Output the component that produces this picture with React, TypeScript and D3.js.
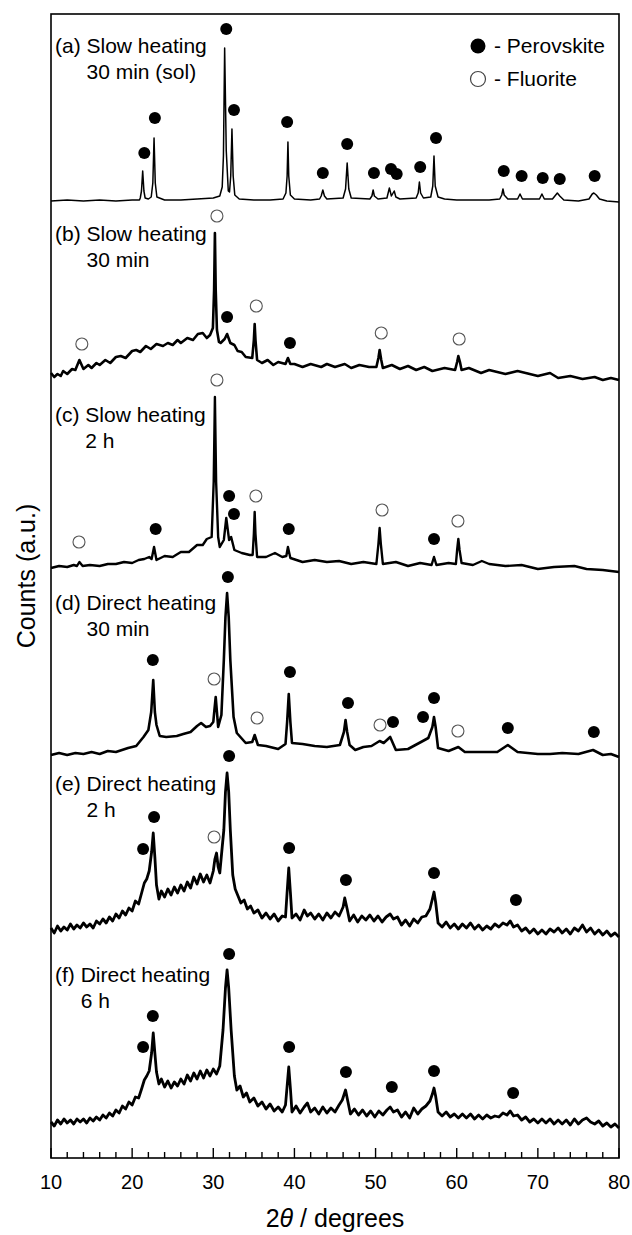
import React from "react";
import * as d3 from "d3";

// ---------- data (2θ in degrees, counts in a.u. above each pattern's own baseline) ----------
const xTickLabels = [10, 20, 30, 40, 50, 60, 70, 80];
const xMinorStep = 2;

const patternLabels = [
  ["(a)", "Slow heating", "30 min (sol)"],
  ["(b)", "Slow heating", "30 min"],
  ["(c)", "Slow heating", "2 h"],
  ["(d)", "Direct heating", "30 min"],
  ["(e)", "Direct heating", "2 h"],
  ["(f)", "Direct heating", "6 h"],
];

// vertical stacking offsets of the six patterns (a.u.)
const patternOffsets = [957, 778, 586, 401, 221, 30];

const patternA: [number, number][] = [
  [10, 0], [12, 1], [14, 0], [16, 1], [18, 0], [20, 1], [20.9, 1],
  [21.0, 3], [21.15, 10], [21.3, 30], [21.45, 10], [21.6, 3], [22.0, 2],
  [22.35, 4], [22.55, 18], [22.7, 63], [22.85, 18], [23.05, 4],
  [24, 1], [26, 1], [28, 2], [30, 3], [30.8, 5],
  [31.1, 14], [31.25, 45], [31.4, 153], [31.6, 50], [31.85, 10], [32.0, 9],
  [32.15, 25], [32.3, 72], [32.45, 25], [32.65, 6], [33.2, 2],
  [35, 1], [37, 1], [38.6, 2],
  [38.95, 8], [39.1, 25], [39.2, 59], [39.3, 25], [39.5, 6], [40, 2], [42, 1], [43.1, 2],
  [43.3, 5], [43.5, 11], [43.7, 5], [44, 2], [46.0, 3],
  [46.3, 12], [46.5, 38], [46.7, 12], [47, 3], [49.3, 2],
  [49.55, 5], [49.7, 11], [49.85, 5], [50.3, 2], [51.4, 3],
  [51.7, 13], [51.95, 5], [52.3, 10], [52.5, 4], [53, 2], [55.0, 3],
  [55.25, 8], [55.4, 19], [55.55, 8], [55.9, 3], [56.8, 4],
  [57.05, 15], [57.2, 45], [57.35, 15], [57.7, 4], [58.5, 2], [60, 1], [62, 1], [64, 1], [65.3, 2],
  [65.55, 6], [65.7, 12], [65.85, 6], [66.3, 2], [67.5, 2],
  [67.8, 7], [68.1, 2], [70.2, 2], [70.5, 7], [70.8, 2], [71.8, 2], [72.2, 6], [72.4, 8], [72.7, 5],
  [73.2, 1], [75, 0], [76.3, 2], [76.7, 7], [76.9, 8], [77.2, 6], [77.6, 2], [78.5, 0], [80, -1],
];

const patternB: [number, number][] = [
  [10, 7], [10.4, 3], [10.8, 6], [11.2, 4], [11.5, 9], [12, 6], [12.6, 11], [13.0, 10], [13.5, 20], [14.0, 11],
  [14.6, 15], [15, 12], [15.6, 17], [16, 15], [16.7, 20], [17.3, 17], [18, 23], [18.6, 24],
  [19.2, 22], [20, 29], [20.5, 30], [21, 28], [21.7, 34], [22.3, 31], [23, 36], [23.8, 34],
  [24.4, 37], [25, 35], [25.6, 40], [26, 37], [26.8, 42], [27.5, 40], [28.1, 46], [28.7, 47],
  [29.2, 42], [29.6, 45], [29.95, 52], [30.1, 90], [30.2, 147], [30.3, 90], [30.45, 50],
  [30.7, 38], [30.9, 37], [31.4, 41], [31.7, 46], [32.1, 37], [32.6, 35], [33, 29],
  [33.5, 28], [34, 23], [34.8, 22], [35.0, 40], [35.1, 56], [35.2, 40], [35.4, 20],
  [36, 17], [36.7, 20], [37.4, 15], [38, 18], [38.9, 16], [39.2, 22], [39.5, 16],
  [40, 16], [41, 13], [42, 16], [43.3, 13], [44, 16], [45, 13], [46.2, 16], [47, 12],
  [48, 15], [49.2, 13], [50.1, 13], [50.35, 22], [50.5, 30], [50.7, 20], [50.9, 12],
  [52, 15], [53, 11], [54, 14], [55, 10], [56, 13], [57, 9], [58.5, 12], [59.8, 10],
  [60.05, 18], [60.2, 24], [60.4, 18], [60.6, 10], [61.5, 12], [63, 7], [64, 10], [66, 6],
  [67.5, 9], [70, 4], [71.5, 7], [72.5, 2], [74, 4], [75.5, 1], [77, 3], [78, 0], [79, 2], [80, 0],
];

const patternC: [number, number][] = [
  [10, 4], [11, 6], [12, 5], [12.8, 7], [13.2, 6], [13.5, 10], [13.9, 6], [14.8, 7],
  [16, 6], [17, 8], [18, 8], [19, 10], [20, 9], [20.8, 12], [21.5, 13], [22.1, 15],
  [22.4, 13], [22.7, 25], [23.0, 12], [24, 16], [25, 15], [26, 20], [27, 20], [28, 27],
  [28.7, 27], [29.2, 33], [29.8, 35], [30.05, 90], [30.2, 175], [30.35, 90], [30.6, 35],
  [30.8, 25], [31.3, 32], [31.6, 54], [31.95, 32], [32.2, 35], [32.6, 22], [33.5, 19],
  [34.5, 17], [34.85, 17], [35.0, 38], [35.1, 60], [35.2, 38], [35.4, 15], [36.5, 15],
  [37.6, 19], [38.5, 15], [39.0, 16], [39.2, 25], [39.5, 14], [41, 10], [42.5, 12],
  [44, 10], [45.5, 11], [47, 8], [48.5, 10], [50.1, 8], [50.35, 28], [50.5, 44],
  [50.65, 28], [50.9, 8], [52.5, 10], [54, 6], [55.5, 9], [56.9, 7], [57.2, 15], [57.5, 7],
  [59.0, 9], [59.9, 8], [60.05, 22], [60.2, 33], [60.35, 22], [60.6, 9], [62, 7],
  [63.1, 11], [64, 8], [66, 6], [68, 7], [70, 3], [72, 5], [74.5, 6], [76, 3], [78, 2], [80, 0],
];

const patternD: [number, number][] = [
  [10, 2], [11, 4], [12, 2], [13, 4], [14, 3], [15, 5], [16, 3], [17, 6], [18, 5],
  [19.5, 9], [20.5, 11], [21.4, 20], [22.0, 27], [22.35, 45], [22.6, 77], [22.8, 45],
  [23.0, 32], [23.4, 21], [24.2, 20], [25.5, 21], [26.3, 23], [27.2, 25], [28, 31],
  [28.5, 34], [29.1, 30], [29.6, 31], [30.0, 35], [30.15, 48], [30.3, 60], [30.45, 45],
  [30.6, 30], [31.0, 42], [31.3, 97], [31.5, 140], [31.7, 164], [31.9, 140], [32.1, 97],
  [32.5, 40], [32.9, 24], [34.0, 14], [34.8, 15], [35.1, 22], [35.5, 12], [36.5, 11],
  [38.0, 8], [38.9, 13], [39.1, 35], [39.3, 63], [39.5, 35], [39.7, 14], [41.0, 13],
  [42.5, 11], [44, 10], [45.6, 12], [46.1, 25], [46.3, 37], [46.5, 25], [46.8, 12],
  [47.5, 7], [48.5, 10], [49.5, 11], [50.5, 16], [51.0, 14], [51.8, 20], [52.5, 7],
  [54, 8], [55.6, 15], [56.5, 19], [57.0, 30], [57.2, 40], [57.4, 30], [57.7, 9],
  [59, 6], [60.2, 10], [61, 5], [63, 5], [65, 5], [66.3, 12], [67.5, 5], [70, 3],
  [71.5, 3], [73, 4], [75, 3], [76.8, 7], [78, 2], [79, 3], [80, 0],
];

const patternE: [number, number][] = [
  [10, 9], [10.4, 4], [10.8, 11], [11.2, 6], [11.6, 10], [12, 7], [12.4, 13], [12.8, 8],
  [13.2, 12], [13.6, 9], [14, 14], [14.4, 10], [14.8, 13], [15.2, 9], [15.6, 16], [16, 13],
  [16.4, 18], [16.8, 14], [17.2, 20], [17.6, 16], [18, 23], [18.4, 19], [18.8, 26], [19.2, 22],
  [19.6, 29], [20, 26], [20.4, 36], [20.8, 33], [21.2, 45], [21.5, 54], [21.8, 58], [22.1, 66],
  [22.4, 85], [22.6, 104], [22.8, 80], [23.0, 52], [23.3, 38], [23.6, 46], [24, 40], [24.4, 48],
  [24.8, 42], [25.2, 50], [25.6, 44], [26, 52], [26.4, 46], [26.8, 55], [27.2, 49], [27.6, 60],
  [28, 53], [28.4, 63], [28.8, 55], [29.2, 62], [29.6, 54], [30.0, 66], [30.2, 78], [30.4, 84],
  [30.6, 70], [30.8, 64], [31.1, 90], [31.3, 107], [31.5, 145], [31.7, 164], [31.9, 145],
  [32.1, 107], [32.4, 62], [32.7, 48], [33, 42], [33.4, 34], [33.8, 37], [34.2, 28], [34.6, 31],
  [35, 24], [35.5, 27], [36, 19], [36.5, 24], [37, 18], [37.5, 23], [38, 16], [38.5, 21],
  [38.9, 20], [39.1, 45], [39.3, 69], [39.5, 45], [39.7, 19], [40.2, 23], [40.7, 17], [41.2, 27],
  [41.6, 21], [42, 24], [42.5, 18], [43, 23], [43.5, 17], [44, 24], [44.5, 19], [45, 25],
  [45.5, 21], [46, 30], [46.2, 39], [46.5, 28], [46.8, 16], [47.3, 22], [47.8, 15], [48.3, 21],
  [48.8, 17], [49.3, 22], [49.8, 16], [50.3, 21], [50.8, 15], [51.3, 20], [51.8, 23], [52.2, 18],
  [52.7, 20], [53.2, 12], [53.7, 17], [54.2, 11], [54.7, 18], [55.2, 14], [55.7, 20], [56.2, 21],
  [56.7, 28], [57.0, 38], [57.2, 45], [57.4, 35], [57.7, 14], [58.2, 10], [58.7, 15], [59.2, 9],
  [59.7, 13], [60.2, 8], [60.7, 13], [61.2, 9], [61.7, 14], [62.2, 8], [62.7, 12], [63.2, 7],
  [63.7, 11], [64.2, 8], [64.7, 13], [65.2, 10], [65.7, 14], [66.2, 12], [66.6, 16], [67, 10],
  [67.5, 12], [68, 6], [68.5, 9], [69, 4], [69.5, 8], [70, 3], [70.5, 7], [71, 3], [71.5, 8],
  [72, 5], [72.5, 9], [73, 4], [73.5, 8], [74, 3], [74.5, 9], [75, 6], [75.5, 12], [76, 5],
  [76.5, 9], [77, 3], [77.5, 7], [78, 2], [78.5, 6], [79, 1], [79.5, 4], [80, 0],
];

const patternF: [number, number][] = [
  [10, 6], [10.4, 2], [10.8, 8], [11.2, 4], [11.6, 9], [12, 5], [12.4, 8], [12.8, 4], [13.2, 9],
  [13.6, 6], [14, 9], [14.4, 5], [14.8, 10], [15.2, 7], [15.6, 11], [16, 8], [16.4, 13], [16.8, 10],
  [17.2, 15], [17.6, 12], [18, 18], [18.4, 15], [18.8, 22], [19.2, 19], [19.6, 26], [20, 23],
  [20.4, 31], [20.8, 30], [21.2, 40], [21.5, 48], [21.8, 52], [22.1, 57], [22.4, 75], [22.6, 95],
  [22.8, 75], [23.0, 56], [23.3, 44], [23.6, 49], [24, 41], [24.4, 47], [24.8, 40], [25.2, 46],
  [25.6, 42], [26, 49], [26.4, 44], [26.8, 53], [27.2, 47], [27.6, 55], [28, 49], [28.4, 57],
  [28.8, 50], [29.2, 58], [29.6, 52], [30, 59], [30.4, 54], [30.8, 62], [31.2, 98], [31.5, 140],
  [31.7, 158], [31.9, 140], [32.2, 98], [32.6, 52], [32.9, 38], [33.3, 42], [33.7, 31], [34.1, 35],
  [34.5, 26], [35, 30], [35.5, 22], [36, 26], [36.5, 19], [37, 24], [37.5, 17], [38, 21],
  [38.5, 16], [38.9, 23], [39.1, 42], [39.3, 61], [39.5, 40], [39.7, 16], [40.2, 22], [40.7, 15],
  [41.2, 21], [41.6, 25], [42, 16], [42.5, 20], [43, 14], [43.5, 21], [44, 15], [44.5, 20],
  [45, 16], [45.5, 23], [45.9, 28], [46.3, 38], [46.6, 26], [46.9, 14], [47.4, 19], [47.9, 13],
  [48.4, 18], [48.9, 12], [49.4, 17], [49.9, 11], [50.4, 17], [50.9, 13], [51.4, 18], [51.8, 21],
  [52.2, 16], [52.7, 18], [53.2, 11], [53.7, 16], [54.2, 10], [54.7, 20], [55.2, 14], [55.7, 19],
  [56.2, 22], [56.7, 27], [57.0, 34], [57.2, 40], [57.4, 32], [57.7, 16], [58.2, 12], [58.7, 16],
  [59.2, 11], [59.7, 14], [60.2, 10], [60.7, 14], [61.2, 10], [61.7, 14], [62.2, 9], [62.7, 13],
  [63.2, 9], [63.7, 13], [64.2, 10], [64.7, 12], [65.2, 11], [65.7, 15], [66.2, 13], [66.6, 17],
  [67, 12], [67.5, 13], [68, 8], [68.5, 11], [69, 6], [69.5, 9], [70, 5], [70.5, 9], [71, 5],
  [71.5, 9], [72, 4], [72.5, 8], [73, 4], [73.5, 8], [74, 3], [74.5, 9], [75, 4], [75.5, 8],
  [76, 10], [76.5, 6], [77, 4], [77.5, 7], [78, 2], [78.5, 5], [79, 1], [79.5, 4], [80, 0],
];

const patterns = [patternA, patternB, patternC, patternD, patternE, patternF];

// phase markers [2θ, counts above the pattern baseline]
const perovskiteMarks: [number, number][][] = [
  [[21.5, 48], [22.8, 83], [31.6, 172], [32.55, 91], [39.1, 79], [43.5, 28], [46.5, 57],
   [49.8, 28], [51.9, 32], [52.6, 27], [55.5, 34], [57.45, 63], [65.8, 30], [68.0, 25],
   [70.6, 23], [72.7, 22], [77.0, 25]],
  [[31.7, 63], [39.45, 37]],
  [[22.9, 43], [31.95, 76], [32.55, 58], [39.3, 43], [57.2, 33]],
  [[22.55, 97], [31.8, 180], [39.45, 85], [46.6, 54], [52.15, 35], [55.85, 40], [57.2, 59],
   [66.3, 29], [76.9, 25]],
  [[21.35, 88], [22.7, 120], [31.95, 181], [39.35, 89], [46.35, 57], [57.2, 64], [67.3, 37]],
  [[21.35, 81], [22.55, 112], [31.95, 174], [39.35, 81], [46.35, 56], [52.0, 41], [57.2, 57],
   [66.95, 35]],
];

const fluoriteMarks: [number, number][][] = [
  [],
  [[13.8, 36], [30.45, 164], [35.3, 74], [50.7, 47], [60.3, 41]],
  [[13.45, 30], [30.45, 192], [35.25, 76], [50.8, 62], [60.15, 51]],
  [[30.1, 78], [35.4, 39], [50.55, 32], [60.15, 26]],
  [[30.1, 100]],
  [],
];

const legendItems = ["- Perovskite", "- Fluorite"];

// ---------- layout ----------
const W = 632;
const H = 1235;
const M = { left: 51, right: 619, top: 14, bottom: 1158 };
const FONT = "'Liberation Sans', Arial, Helvetica, sans-serif";
const strokeWidths = [1.5, 2.6, 2.4, 2.6, 2.8, 2.8];

export default function App() {
  const x = d3.scaleLinear().domain([10, 80]).range([M.left, M.right]);
  const y = d3.scaleLinear().domain([0, M.bottom - M.top]).range([M.bottom, M.top]);
  const minorTicks = d3.range(10, 80.01, xMinorStep);

  return (
    <svg
      width={W}
      height={H}
      style={{ position: "absolute", left: 0, top: 0, background: "#fff" }}
      fontFamily={FONT}
    >
      <rect x={0} y={0} width={W} height={H} fill="#fff" />
      {patterns.map((p, i) => {
        const off = patternOffsets[i];
        const line = d3
          .line<[number, number]>()
          .x((d) => x(d[0]))
          .y((d) => y(d[1] + off))
          .curve(d3.curveLinear);
        return (
          <path
            key={"p" + i}
            d={line(p) || ""}
            fill="none"
            stroke="#000"
            strokeWidth={strokeWidths[i]}
            strokeLinejoin="round"
          />
        );
      })}
      {perovskiteMarks.map((ms, i) =>
        ms.map((m, j) => (
          <circle key={"pm" + i + "-" + j} cx={x(m[0])} cy={y(m[1] + patternOffsets[i])} r={6} fill="#000" />
        ))
      )}
      {fluoriteMarks.map((ms, i) =>
        ms.map((m, j) => (
          <circle
            key={"fm" + i + "-" + j}
            cx={x(m[0])}
            cy={y(m[1] + patternOffsets[i])}
            r={6}
            fill="#fff"
            stroke="#555"
            strokeWidth={1.1}
          />
        ))
      )}
      {patternLabels.map((lab, i) => {
        const base = [53, 241, 422, 610, 791, 982][i];
        return (
          <g key={"l" + i} fontSize={21} fill="#000">
            <text x={55} y={base}>{lab[0] + " " + lab[1]}</text>
            <text x={55} y={base + 26}>
              <tspan fillOpacity={0}>{lab[0] + " "}</tspan>
              {lab[2]}
            </text>
          </g>
        );
      })}
      {/* legend */}
      <circle cx={478} cy={46} r={7.5} fill="#000" />
      <text x={494} y={53} fontSize={21}>{legendItems[0]}</text>
      <circle cx={478} cy={79} r={7.5} fill="#fff" stroke="#444" strokeWidth={1.2} />
      <text x={494} y={86} fontSize={21}>{legendItems[1]}</text>
      {/* frame */}
      <rect
        x={M.left}
        y={M.top}
        width={M.right - M.left}
        height={M.bottom - M.top}
        fill="none"
        stroke="#000"
        strokeWidth={1.6}
      />
      {/* x ticks (inward) */}
      {minorTicks.map((t) => {
        const major = xTickLabels.includes(Math.round(t));
        return (
          <line
            key={"t" + t}
            x1={x(t)}
            x2={x(t)}
            y1={M.bottom}
            y2={M.bottom - (major ? 10 : 6)}
            stroke="#000"
            strokeWidth={1.4}
          />
        );
      })}
      {xTickLabels.map((t) => (
        <text key={"tl" + t} x={x(t)} y={1189} fontSize={20} textAnchor="middle">
          {t}
        </text>
      ))}
      <text x={(M.left + M.right) / 2} y={1227} fontSize={25} textAnchor="middle">
        2<tspan fontStyle="italic">θ</tspan> / degrees
      </text>
      <text transform={`translate(35, 576) rotate(-90)`} fontSize={25} textAnchor="middle">
        Counts (a.u.)
      </text>
    </svg>
  );
}
